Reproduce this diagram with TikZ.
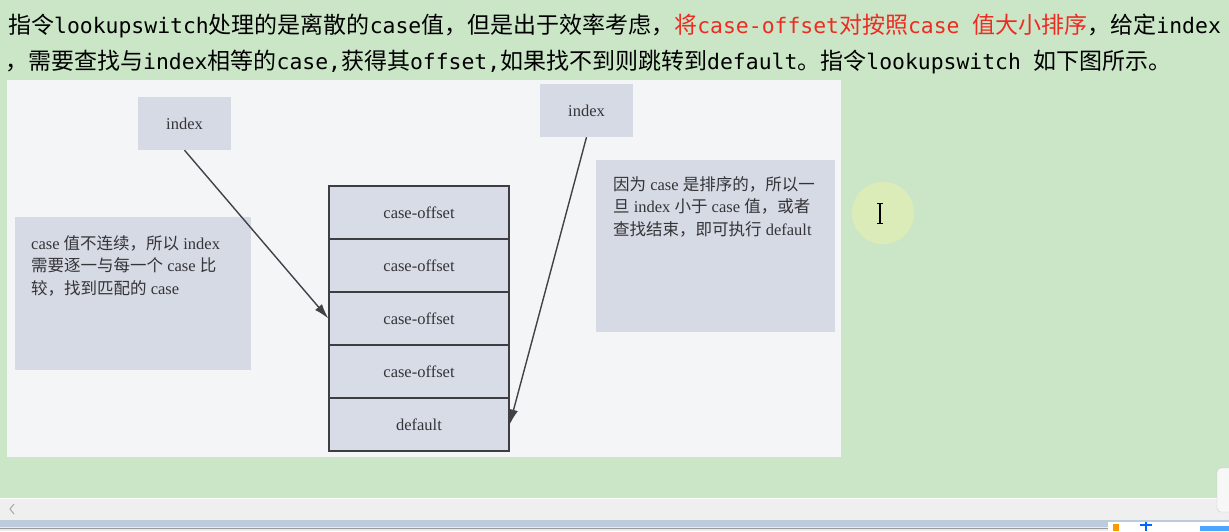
\documentclass[tikz,border=0pt]{standalone}
\usepackage{fontspec}
\setmainfont{Liberation Serif}
\newfontfamily\zhf{Noto Sans CJK SC}
\newfontfamily\mof{DejaVu Sans Mono}
\usetikzlibrary{arrows.meta}
\definecolor{bggreen}{RGB}{202,230,199}
\definecolor{panelc}{RGB}{244,245,247}
\definecolor{boxfill}{RGB}{214,218,228}
\definecolor{cellfill}{RGB}{216,220,230}
\definecolor{cellline}{RGB}{62,62,66}
\definecolor{arrcol}{RGB}{66,66,70}
\definecolor{dtext}{RGB}{52,52,56}
\definecolor{hired}{RGB}{236,44,34}
\definecolor{scrollc}{RGB}{239,239,239}
\definecolor{barc}{RGB}{188,204,221}
\definecolor{glow}{RGB}{220,236,184}
\newcommand\Zt[1]{{\zhf\fontsize{23}{28}\selectfont #1}}
\newcommand\Mt[1]{{\mof\fontsize{21.4}{28}\selectfont #1}}
\newcommand\zc[1]{{\zhf #1}}
\newcommand\dfont{\fontsize{16.5}{22.5}\selectfont}
\begin{document}
\begin{tikzpicture}[x=1pt,y=-1pt,
  idxbox/.style={fill=boxfill, minimum width=93pt, minimum height=53pt, inner sep=0pt, text=dtext, font=\dfont},
  notebox/.style={fill=boxfill, inner sep=0pt},
  notetext/.style={anchor=north west, inner sep=0pt, align=left, text=dtext, font=\dfont},
  cell/.style={fill=cellfill, draw=cellline, line width=1.3pt, minimum width=180pt, minimum height=53pt, inner sep=0pt, text=dtext, font=\dfont},
  arr/.style={draw=arrcol, line width=1.4pt, -{Latex[length=15pt,width=9pt]}},
  topline/.style={anchor=base west, inner sep=0pt}]
\useasboundingbox (0,0) rectangle (1229,531);
% screen background
\fill[bggreen] (0,0) rectangle (1229,498);
\fill[scrollc] (0,498) rectangle (1229,520);
\draw[white, line width=0.8pt] (0,498.5) -- (1229,498.5);
\draw[gray!70, line width=1pt] (14,504) -- (10,509) -- (14,514);
\fill[barc] (0,520) rectangle (1229,527);
\fill[white!92!black] (0,527) rectangle (1229,531);
\draw[gray!80, line width=0.8pt] (0,528.5) -- (1229,528.5);
\fill[white] (1108,522) rectangle (1229,531);
\fill[orange!80!yellow] (1113,524) rectangle (1119,531);
\fill[blue!60!cyan] (1140,524) rectangle (1152,526);
\fill[blue!60!cyan] (1145,522) rectangle (1147,531);
\fill[blue!50!cyan!70] (1200,526) rectangle (1229,531);
\filldraw[fill=white!97!black, draw=gray!40, rounded corners=4pt] (1217,468) rectangle (1240,512);
% cursor glow and I-beam
\fill[glow] (883,213) circle (31);
\draw[black, line width=1.2pt] (880,203) -- (880,223);
\draw[black, line width=0.9pt] (877,203) -- (883,203) (877,223) -- (883,223);
% top text
\node[topline] (l1) at (8,33) {\Zt{指令}\Mt{lookupswitch}\Zt{处理的是离散的}\Mt{case}\Zt{值，但是出于效率考虑，}\textcolor{hired}{\Zt{将}\Mt{case-offset}\Zt{对按照}\Mt{case }\Zt{值大小排序}}\Zt{，给定}\Mt{index}};
\node[topline] (l2) at (5,69) {\Zt{，需要查找与}\Mt{index}\Zt{相等的}\Mt{case,}\Zt{获得其}\Mt{offset,}\Zt{如果找不到则跳转到}\Mt{default}\Zt{。指令}\Mt{lookupswitch }\Zt{如下图所示。}};
% diagram panel
\fill[panelc] (7,80) rectangle (841,457);
% boxes
\node[idxbox] (idxL) at (184.5,123.5) {index};
\node[idxbox] (idxR) at (586.5,110.5) {index};
\node[notebox, minimum width=236pt, minimum height=153pt] (noteL) at (133,293.5) {};
\node[notebox, minimum width=239pt, minimum height=172pt] (noteR) at (715.5,246) {};
\node[notetext] (tL) at (31,235) {case \zc{值不连续，所以} index\\\zc{需要逐一与每一个} case \zc{比}\\\zc{较，找到匹配的} case};
\node[notetext] (tR) at (613,176) {\zc{因为} case \zc{是排序的，所以一}\\\zc{旦} index \zc{小于} case \zc{值，或者}\\\zc{查找结束，即可执行} default};
% stack
\node[cell] (r1) at (419,212.5) {case-offset};
\node[cell] (r2) at (419,265.5) {case-offset};
\node[cell] (r3) at (419,318.5) {case-offset};
\node[cell] (r4) at (419,371.5) {case-offset};
\node[cell] (r5) at (419,424.5) {default};
% arrows
\draw[arr] (idxL.south) -- (r3.west);
\draw[arr] (idxR.south) -- (r5.east);
\end{tikzpicture}
\end{document}
